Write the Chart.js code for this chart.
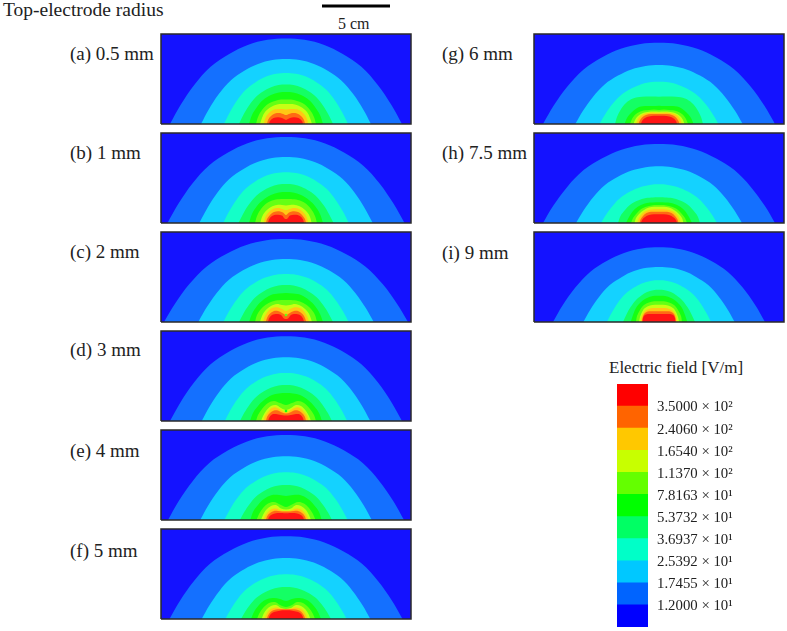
<!DOCTYPE html>
<html><head><meta charset="utf-8">
<style>
html,body{margin:0;padding:0;background:#fff;width:787px;height:631px;overflow:hidden}
canvas{position:absolute;display:block}
.t{position:absolute;font-family:"Liberation Serif",serif;color:#222;white-space:pre;line-height:1}
</style>
<script src="https://cdn.jsdelivr.net/npm/chart.js@4"></script>
</head><body>
<script>
// Contour half-profiles: [radial distance, height] in domain units (68 units = the 5 cm bar),
// outermost field level first. Each panel lists one profile for each of the ten levels.
const contoursA = [
 [[116,0],[105.6,18.8],[91.6,39.3],[75.4,57.3],[56.8,70.1],[38.3,79.1],[18.6,84.2],[0,85.5]],
 [[85,0],[77.4,14.3],[67.2,29.9],[55.3,43.6],[41.7,53.3],[28,60.1],[13.6,64],[0,65]],
 [[62,0],[56.4,11.2],[49,23.5],[40.3,34.2],[30.4,41.8],[20.5,47.2],[9.9,50.2],[0,51]],
 [[47,0],[42.8,8.7],[37.1,18.2],[30.6,26.5],[23,32.4],[15.5,36.5],[7.5,38.9],[0,39.5]],
 [[37,0],[34,9],[29,17],[23,24],[15,29],[7,31.5],[0,32]],
 [[30,0],[28,7],[24,14],[18,20],[11,23],[5,24.5],[0,24.5]],
 [[26,0],[24,6],[21,12],[15,17],[9,19.5],[4,20],[0,20]],
 [[22,0],[21,5],[18,10],[13,14],[8,15],[4,15],[0,14.5]],
 [[19,0],[18,4],[15,8],[11,10.5],[6,11],[3,10],[0,9]],
 [[17,0],[16,3],[12.5,6],[8,6.8],[4,6],[1,4.5],[0,4]]
];
const contoursB = [
 [[118.5,0],[107.8,18.9],[93.6,39.6],[77,57.6],[58,70.5],[39.1,79.6],[19,84.7],[0,86]],
 [[86.7,0],[78.9,14.5],[68.5,30.4],[56.4,44.2],[42.5,54.1],[28.6,61],[13.9,65],[0,66]],
 [[62.7,0],[57.1,11.2],[49.5,23.3],[40.8,34],[30.7,41.6],[20.7,46.9],[10,49.9],[0,50.7]],
 [[47.5,0],[43.2,8.6],[37.5,17.9],[30.9,26.1],[23.3,32],[15.7,36.1],[7.6,38.4],[0,39]],
 [[37,0],[34,9],[29,17],[23,23],[15,28],[7,30.5],[0,31]],
 [[31,0],[29,7],[25,14],[19,20],[12,23],[5,24],[0,24]],
 [[25.7,0],[24,6],[21,11],[15,16],[9,18],[4,18],[0,17.5]],
 [[22,0],[21,5],[18,10],[13,14],[8,15],[4,14],[0,13]],
 [[20,0],[19,4],[16,8],[12,11],[7,11.7],[3,10.5],[0,8]],
 [[18,0],[17,3.5],[14,7],[9,8.3],[4,7.5],[1.5,4.5],[0,4]]
];
const contoursC = [
 [[122,0],[111,18.3],[96.4,38.2],[79.3,55.6],[59.8,68.1],[40.3,76.8],[19.5,81.8],[0,83]],
 [[87.7,0],[79.8,13.9],[69.3,29],[57,42.2],[43,51.7],[28.9,58.3],[14,62],[0,63]],
 [[62.8,0],[57.1,10.6],[49.5,22.1],[40.8,32.2],[30.7,39.4],[20.7,44.4],[10,47.3],[0,48]],
 [[47,0],[42.8,8.1],[37.1,17],[30.6,24.8],[23,30.3],[15.5,34.2],[7.5,36.4],[0,37]],
 [[37,0],[34,8],[29,16],[23,22],[15,27],[7,28.5],[0,29]],
 [[31,0],[29,7],[25,13],[19,18],[12,21],[5,22],[0,22]],
 [[26,0],[24,6],[21,11],[15,16],[9,18],[4,17],[0,16.5]],
 [[23,0],[21.5,5],[18.5,10],[14,14],[9,14.7],[4,13],[0,11]],
 [[20.3,0],[19,4],[16.5,8],[12,11],[8,11],[3,8.5],[0,7]],
 [[18,0],[17,3.5],[14,7],[9,8],[5,7],[2,3.5],[0,3]]
];
const contoursD = [
 [[116,0],[105.6,18.6],[91.6,39],[75.4,56.7],[56.8,69.5],[38.3,78.3],[18.6,83.4],[0,84.7]],
 [[84.3,0],[76.7,14],[66.6,29.3],[54.8,42.7],[41.3,52.2],[27.8,58.9],[13.5,62.7],[0,63.7]],
 [[61.3,0],[55.8,10.6],[48.4,22.1],[39.8,32.2],[30,39.4],[20.2,44.4],[9.8,47.3],[0,48]],
 [[46,0],[41.9,7.9],[36.3,16.6],[29.9,24.1],[22.5,29.5],[15.2,33.3],[7.4,35.5],[0,36]],
 [[36,0],[33,8],[28,15],[22,21],[14,26],[7,27.5],[0,28]],
 [[30,0],[28,6],[24,12],[18,18],[12,20],[6,18],[0,16]],
 [[25,0],[23,5],[20,10],[15,15],[10,16],[5,13],[0,11]],
 [[22.3,0],[21,5],[18,9],[14,13],[10,13.5],[5,11],[0,8.5]],
 [[20,0],[19,4],[16,8],[12,10.5],[8,10.5],[4,8.5],[0,7.5]],
 [[17.7,0],[17,3],[14,6.5],[10,7],[5,6],[2,5.5],[0,5.5]]
];
const contoursE = [
 [[118,0],[107.4,18.7],[93.2,39.1],[76.7,57],[57.8,69.7],[38.9,78.6],[18.9,83.7],[0,85]],
 [[85.8,0],[78.1,14],[67.8,29.3],[55.8,42.7],[42,52.2],[28.3,58.9],[13.7,62.7],[0,63.7]],
 [[61.7,0],[56.1,10.5],[48.7,21.9],[40.1,32],[30.2,39.1],[20.4,44.1],[9.9,47],[0,47.7]],
 [[46,0],[41.9,7.7],[36.3,16.1],[29.9,23.5],[22.5,28.7],[15.2,32.4],[7.4,34.5],[0,35]],
 [[35.7,0],[33,8],[28,15],[22,21],[14,25],[7,25],[0,24]],
 [[29.5,0],[27,6],[23,12],[18,16.5],[12,18],[6,15.5],[0,13]],
 [[25,0],[23,5],[20,10],[15,14],[10,15],[5,11.5],[0,10.5]],
 [[22.3,0],[21,4],[18,8],[14,11],[10,11.5],[5,9.5],[0,9]],
 [[20,0],[19,3.5],[16,7],[12,9],[8,9],[4,8.5],[0,8.5]],
 [[18,0],[17,3],[14,5.5],[10,6.8],[5,7],[2,6.8],[0,6.8]]
];
const contoursF = [
 [[116.5,0],[106,18.2],[92,38],[75.7,55.4],[57.1,67.8],[38.4,76.5],[18.6,81.5],[0,82.7]],
 [[84.3,0],[76.7,13.4],[66.6,28.1],[54.8,40.9],[41.3,50],[27.8,56.4],[13.5,60.1],[0,61]],
 [[60.7,0],[55.2,9.8],[48,20.6],[39.5,29.9],[29.7,36.7],[20,41.3],[9.7,44],[0,44.7]],
 [[45,0],[41,7],[35.6,14.7],[29.3,21.4],[22,26.2],[14.9,29.6],[7.2,31.5],[0,32]],
 [[35,0],[32,7],[27,14],[21,19],[13,21],[6,20],[0,18]],
 [[29,0],[27,5],[23,11],[17,16],[11,17],[6,14],[0,12]],
 [[24.3,0],[22.5,5],[19.5,9.5],[15,13],[10,14],[5,11],[0,10]],
 [[21.7,0],[20,4],[17.5,8],[14,10.5],[9,11.5],[5,10.5],[0,10]],
 [[19.3,0],[18,3.5],[15.5,7],[12,9],[8,9.8],[4,9.8],[0,9.8]],
 [[17.5,0],[16.5,3],[14,6],[10,7.5],[5,8.5],[2,8.7],[0,8.7]]
];
const contoursG = [
 [[116,0],[105.6,17.9],[91.6,37.4],[75.4,54.5],[56.8,66.7],[38.3,75.2],[18.6,80.1],[0,81.3]],
 [[83.7,0],[76.2,13],[66.1,27.1],[54.4,39.5],[41,48.4],[27.6,54.6],[13.4,58.1],[0,59]],
 [[59.5,0],[54.1,9.3],[47,19.5],[38.7,28.3],[29.2,34.7],[19.6,39.1],[9.5,41.7],[0,42.3]],
 [[44,0],[42,7],[38.5,14],[33,21],[26,25.5],[17,27.2],[8,27.5],[0,27.3]],
 [[34.5,0],[32,6],[27,12],[20,17],[12,18],[6,18],[0,18.3]],
 [[29,0],[27,5],[23,10],[17,13],[10,14],[5,14.5],[0,14]],
 [[25.5,0],[24,4],[21,8],[16,11],[10,12.3],[5,12.5],[0,12.3]],
 [[23,0],[21.5,4],[19,7.5],[15,10],[9,11.3],[4,11.3],[0,11.3]],
 [[20.5,0],[19.5,3],[17,6.5],[13,9],[8,10],[4,10],[0,10]],
 [[18,0],[17,3],[14,6],[10,7.5],[5,8.3],[2,8.3],[0,8.3]]
];
const contoursH = [
 [[116,0],[105.6,17.4],[91.6,36.3],[75.4,52.9],[56.8,64.8],[38.3,73.1],[18.6,77.8],[0,79]],
 [[83,0],[75.5,12.5],[65.6,26.1],[54,38],[40.7,46.5],[27.4,52.4],[13.3,55.8],[0,56.7]],
 [[58,0],[52.8,8.5],[45.8,17.8],[37.7,25.9],[28.4,31.7],[19.1,35.8],[9.3,38.1],[0,38.7]],
 [[41,0],[38.5,7],[34,13],[28.5,18.5],[21,22.5],[13,25],[6,25.6],[0,25.7]],
 [[33,0],[30,6],[26,12],[20,17],[12,20],[6,20.5],[0,20.7]],
 [[28,0],[26,5],[22,10],[17,14.5],[10,17],[5,18],[0,18]],
 [[24.5,0],[23,5],[20,9],[15,13],[10,15.5],[5,16.3],[0,16.3]],
 [[21.7,0],[20.5,4],[18,8],[14,11.5],[9,13.2],[4,13.7],[0,13.7]],
 [[19.5,0],[18.5,3.5],[16,7],[12.5,10],[8,11.2],[4,11.3],[0,11.3]],
 [[18,0],[17,3],[14,6],[10,8],[5,8.7],[2,8.7],[0,8.7]]
];
const contoursI = [
 [[106,0],[96.5,16.4],[83.7,34.4],[68.9,50],[51.9,61.3],[35,69.1],[17,73.6],[0,74.7]],
 [[75.7,0],[68.9,12.1],[59.8,25.3],[49.2,36.9],[37.1,45.1],[25,50.9],[12.1,54.2],[0,55]],
 [[52,0],[47.3,9.2],[41.1,19.2],[33.8,27.9],[25.5,34.2],[17.2,38.6],[8.3,41.1],[0,41.7]],
 [[36,0],[32.8,7.1],[28.4,14.9],[23.4,21.6],[17.6,26.5],[11.9,29.9],[5.8,31.8],[0,32.3]],
 [[28.3,0],[26,7],[23,14],[18,20],[12,24],[6,26],[0,26.3]],
 [[23,0],[22,6],[19,12],[15,17],[10,19.5],[5,20.7],[0,20.7]],
 [[20,0],[19,5],[17,10],[14,14],[9,16.5],[4,17.3],[0,17.3]],
 [[18,0],[17.5,5],[15.5,9],[12.5,12],[8,13.7],[4,14],[0,14]],
 [[17,0],[16.5,4],[15,8],[12,10.3],[8,10.7],[4,10.7],[0,10.7]],
 [[16.3,0],[16,4],[14,7],[10,8],[5,8],[2,8],[0,8]]
];
const panelContours = [contoursA,contoursB,contoursC,contoursD,contoursE,contoursF,contoursG,contoursH,contoursI];
const panelLabels = ['(a) 0.5 mm','(b) 1 mm','(c) 2 mm','(d) 3 mm','(e) 4 mm','(f) 5 mm','(g) 6 mm','(h) 7.5 mm','(i) 9 mm'];
const notchSpotHeights = [null,null,7,10,null,null,null,null,null];
const notchSpotBands = [null,null,6,5,null,null,null,null,null];
const domainHalfWidth = 125;
const domainHeight = 90;
const scaleBarLength = 68;
const bandColors = ['#1412ff','#1470ff','#14d2ff','#14ffc8','#14ff64','#14ff14','#64ff14','#c8ff14','#ffc814','#ff6a14','#ff1414'];
const legendColors = ['#0000ff','#0064ff','#00c8ff','#00ffc8','#00ff64','#00ff00','#64ff00','#c8ff00','#ffc800','#ff6400','#ff0000'];
const legendTicks = ['1.2000 × 10¹','1.7455 × 10¹','2.5392 × 10¹','3.6937 × 10¹','5.3732 × 10¹','7.8163 × 10¹','1.1370 × 10²','1.6540 × 10²','2.4060 × 10²','3.5000 × 10²'];

// layout only
const panelBoxes = [[161,34],[161,133],[161,232],[161,331],[161,430],[161,529],[534,34],[534,133],[534,232]];
const labelBoxes = [[70,44],[70,143],[70,242],[70,340],[70,441],[70,541],[442,44],[442,143],[442,243]];

function addCanvas(x,y,w,h){
  const c=document.createElement('canvas');
  c.width=w;c.height=h;c.style.left=x+'px';c.style.top=y+'px';c.style.width=w+'px';c.style.height=h+'px';
  document.body.appendChild(c);return c;
}
function addText(s,x,y,size){
  const d=document.createElement('div');d.className='t';d.textContent=s;
  d.style.left=x+'px';d.style.top=y+'px';d.style.fontSize=size+'px';document.body.appendChild(d);
}
function closedContour(profile){
  const left=profile.map(p=>({x:-p[0],y:p[1]}));
  const right=profile.slice(0,-1).reverse().map(p=>({x:p[0],y:p[1]}));
  return left.concat(right);
}
const baseOpts={
  responsive:false,animation:false,events:[],
  plugins:{legend:{display:false},tooltip:{enabled:false}}
};
panelContours.forEach((levels,i)=>{
  const [x,y]=panelBoxes[i];
  const corners=[{x:-domainHalfWidth,y:0},{x:-domainHalfWidth,y:domainHeight},{x:domainHalfWidth,y:domainHeight},{x:domainHalfWidth,y:0},{x:-domainHalfWidth,y:0}];
  const ds=[{data:corners,showLine:true,fill:false,borderColor:'#2a2a2a',borderWidth:1.5,pointRadius:0,tension:0,clip:false}];
  if(notchSpotHeights[i]!==null){
    ds.push({data:[{x:0,y:notchSpotHeights[i]}],showLine:false,pointRadius:1.3,pointBorderWidth:0,pointBackgroundColor:bandColors[notchSpotBands[i]]});
  }
  for(let k=levels.length-1;k>=0;k--){
    ds.push({data:closedContour(levels[k]),showLine:true,fill:'shape',backgroundColor:bandColors[k+1],borderWidth:0,borderColor:'transparent',pointRadius:0,tension:0.35});
  }
  ds.push({data:corners,showLine:true,fill:'shape',backgroundColor:bandColors[0],borderWidth:0,borderColor:'transparent',pointRadius:0,tension:0});
  new Chart(addCanvas(x-2,y-2,254,94),{type:'scatter',data:{datasets:ds},options:Object.assign({},baseOpts,{
    layout:{padding:2,autoPadding:false},
    scales:{x:{type:'linear',display:false,min:-domainHalfWidth,max:domainHalfWidth},y:{type:'linear',display:false,min:0,max:domainHeight}}
  })});
  addText(panelLabels[i],labelBoxes[i][0],labelBoxes[i][1],19);
});
// 5 cm scale bar
new Chart(addCanvas(322,0,68,12),{type:'scatter',data:{datasets:[{data:[{x:0,y:0},{x:scaleBarLength,y:0}],showLine:true,borderColor:'#000',borderWidth:3,pointRadius:0,clip:false}]},
  options:Object.assign({},baseOpts,{layout:{autoPadding:false},scales:{x:{type:'linear',display:false,min:0,max:scaleBarLength},y:{type:'linear',display:false,min:-1,max:1}}})});
addText('Top-electrode radius',3,0,19.5);
addText('5 cm',338,16,16);
addText('Electric field [V/m]',609,359,17);
// colour legend
new Chart(addCanvas(617,384,170,243),{type:'bar',data:{labels:[''],datasets:legendColors.map(c=>({data:[1],backgroundColor:c,borderWidth:0,barPercentage:1,categoryPercentage:1}))},
  options:Object.assign({},baseOpts,{
    scales:{
      x:{stacked:true,display:false},
      y:{stacked:true,position:'right',min:0,max:11,
        afterFit:s=>{s.width=139;s.paddingTop=0;s.paddingBottom=0;},
        grid:{display:false,drawTicks:false},border:{display:false},
        ticks:{stepSize:1,autoSkip:false,padding:9,labelOffset:1.5,color:'#222',font:{family:'"Liberation Serif"',size:14.8},
          callback:v=>legendTicks[v-1]||''}}
    }})});
</script>
</body></html>
